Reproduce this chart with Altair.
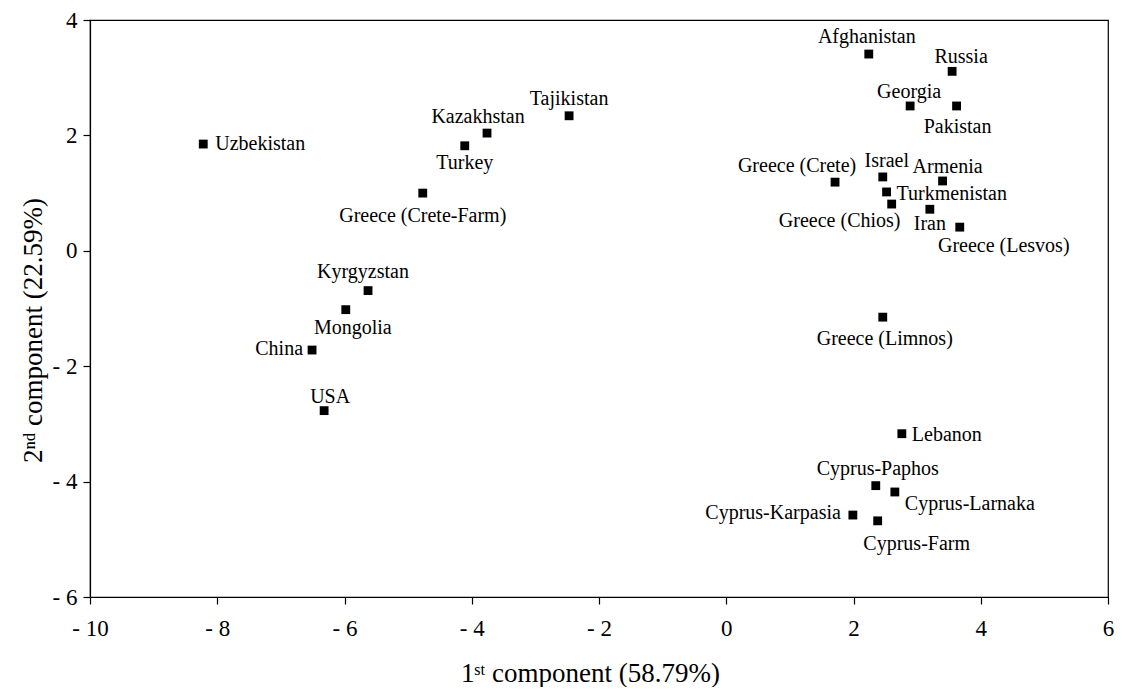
import altair as alt
import pandas as pd

names = ["Uzbekistan", "Kazakhstan", "Tajikistan", "Turkey", "Greece (Crete-Farm)",
         "Kyrgyzstan", "Mongolia", "China", "USA", "Afghanistan", "Russia", "Georgia",
         "Pakistan", "Greece (Crete)", "Israel", "Armenia", "Turkmenistan",
         "Greece (Chios)", "Iran", "Greece (Lesvos)", "Greece (Limnos)", "Lebanon",
         "Cyprus-Paphos", "Cyprus-Larnaka", "Cyprus-Karpasia", "Cyprus-Farm"]
pc1 = [-8.22, -3.76, -2.47, -4.11, -4.77, -5.63, -5.98, -6.51, -6.32, 2.24, 3.55, 2.89,
       3.62, 1.71, 2.46, 3.40, 2.52, 2.60, 3.20, 3.67, 2.46, 2.76, 2.35, 2.65, 1.99, 2.38]
pc2 = [1.85, 2.04, 2.34, 1.82, 1.00, -0.69, -1.02, -1.72, -2.77, 3.41, 3.11, 2.51, 2.51,
       1.19, 1.28, 1.21, 1.02, 0.81, 0.72, 0.41, -1.15, -3.17, -4.07, -4.18, -4.58, -4.68]
x_ticks = [-10, -8, -6, -4, -2, 0, 2, 4, 6]
y_ticks = [-6, -4, -2, 0, 2, 4]

# label placement relative to the marker (presentation only): align, dx px, dy px
label_place = {
    "Uzbekistan": ("left", 12, 0), "Kazakhstan": ("center", -9, -16),
    "Tajikistan": ("center", 0, -17), "Turkey": ("center", 0, 17),
    "Greece (Crete-Farm)": ("center", 0, 23), "Kyrgyzstan": ("center", -5, -19),
    "Mongolia": ("center", 7, 18), "China": ("right", -9, -1), "USA": ("center", 6, -14),
    "Afghanistan": ("center", -2, -17), "Russia": ("center", 9, -14),
    "Georgia": ("center", -1, -14), "Pakistan": ("center", 1, 21),
    "Greece (Crete)": ("center", -38, -16), "Israel": ("center", 4, -16),
    "Armenia": ("center", 5, -14), "Turkmenistan": ("left", 10, 2),
    "Greece (Chios)": ("center", -52, 17), "Iran": ("center", 0, 15),
    "Greece (Lesvos)": ("center", 44, 19), "Greece (Limnos)": ("center", 2, 22),
    "Lebanon": ("left", 10, 1), "Cyprus-Paphos": ("center", 2, -17),
    "Cyprus-Larnaka": ("left", 10, 12), "Cyprus-Karpasia": ("right", -12, -2),
    "Cyprus-Farm": ("center", 39, 23),
}

W, H = 1018, 577
X_DOM, Y_DOM = [-10, 6], [-6, 4]

df = pd.DataFrame({"name": names, "pc1": pc1, "pc2": pc2})
df["align"] = [label_place[n][0] for n in names]
df["dx"] = [label_place[n][1] for n in names]
df["dy"] = [label_place[n][2] for n in names]

FONT = "Liberation Serif"
label_expr = "datum.value < 0 ? '- ' + abs(datum.value) : '' + datum.value"

xscale = alt.Scale(domain=X_DOM, nice=False, zero=False)
yscale = alt.Scale(domain=Y_DOM, nice=False, zero=False)

x = alt.X("pc1:Q", scale=xscale,
          axis=alt.Axis(values=x_ticks, labelExpr=label_expr, grid=False, labelPadding=13,
                        labelFlush=False,
                        title="1ˢᵗ component (58.79%)", titleX=500, titleY=76,
                        titleBaseline="middle", titleFontWeight="normal"))
y = alt.Y("pc2:Q", scale=yscale,
          axis=alt.Axis(values=y_ticks, labelExpr=label_expr, grid=False, labelPadding=6,
                        labelFlush=False,
                        title="2ⁿᵈ component (22.59%)", titleX=-57, titleY=310,
                        titleBaseline="middle", titleAngle=-90,
                        titleFontWeight="normal"))

base = alt.Chart(df)
points = base.mark_point(shape="square", filled=True, color="black", size=78,
                         opacity=1).encode(x=x, y=y)

px_x = (X_DOM[1] - X_DOM[0]) / W
px_y = (Y_DOM[1] - Y_DOM[0]) / H

layers = [points]
for al in ["left", "center", "right"]:
    layers.append(
        base.transform_filter(alt.datum.align == al)
        .transform_calculate(lx=f"datum.pc1 + datum.dx * {px_x}",
                             ly=f"datum.pc2 - datum.dy * {px_y}")
        .mark_text(align=al, baseline="middle", font=FONT, fontSize=20, color="black")
        .encode(x=alt.X("lx:Q", scale=xscale), y=alt.Y("ly:Q", scale=yscale),
                text="name:N")
    )

chart = alt.layer(*layers).properties(
    width=W, height=H,
    autosize=alt.AutoSizeParams(type="none"),
    padding={"left": 82, "top": 12, "right": 6, "bottom": 90},
).configure_view(stroke="black", strokeWidth=1.2).configure_axis(
    domainColor="black", tickColor="black", tickSize=7, domainWidth=1.2, tickWidth=1.2,
    labelFont=FONT, labelFontSize=23, labelColor="black",
    titleFont=FONT, titleFontSize=27, titleColor="black",
)

chart.save("out.html", embed_options={"renderer": "svg", "actions": False})
